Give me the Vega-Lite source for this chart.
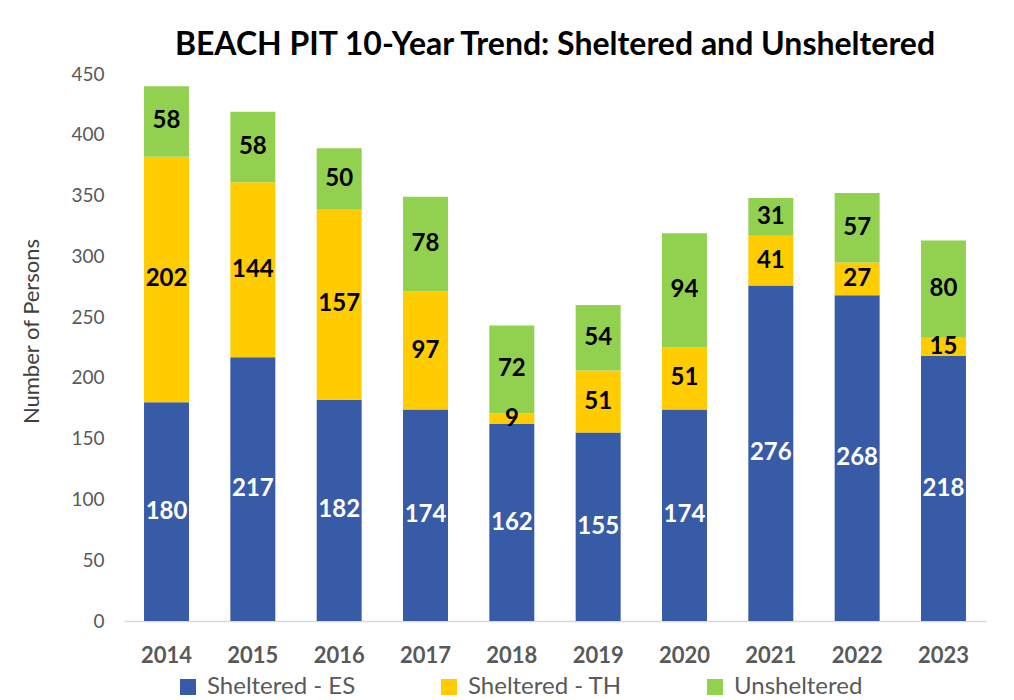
{
  "$schema": "https://vega.github.io/schema/vega-lite/v6.json",
  "autosize": "none",
  "width": 862,
  "height": 547,
  "padding": {"left": 124, "top": 74, "right": 28, "bottom": 79},
  "background": "#ffffff",
  "config": {
    "font": "Lato",
    "view": {"stroke": null}
  },
  "title": {
    "text": "BEACH PIT 10-Year Trend: Sheltered and Unsheltered",
    "font": "Lato",
    "fontSize": 32,
    "fontWeight": "bold",
    "color": "#000000",
    "anchor": "middle",
    "offset": 3
  },
  "data": {
    "values": [
      {"year": "2014", "series": "Sheltered - ES", "value": 180},
      {"year": "2014", "series": "Sheltered - TH", "value": 202},
      {"year": "2014", "series": "Unsheltered", "value": 58},
      {"year": "2015", "series": "Sheltered - ES", "value": 217},
      {"year": "2015", "series": "Sheltered - TH", "value": 144},
      {"year": "2015", "series": "Unsheltered", "value": 58},
      {"year": "2016", "series": "Sheltered - ES", "value": 182},
      {"year": "2016", "series": "Sheltered - TH", "value": 157},
      {"year": "2016", "series": "Unsheltered", "value": 50},
      {"year": "2017", "series": "Sheltered - ES", "value": 174},
      {"year": "2017", "series": "Sheltered - TH", "value": 97},
      {"year": "2017", "series": "Unsheltered", "value": 78},
      {"year": "2018", "series": "Sheltered - ES", "value": 162},
      {"year": "2018", "series": "Sheltered - TH", "value": 9},
      {"year": "2018", "series": "Unsheltered", "value": 72},
      {"year": "2019", "series": "Sheltered - ES", "value": 155},
      {"year": "2019", "series": "Sheltered - TH", "value": 51},
      {"year": "2019", "series": "Unsheltered", "value": 54},
      {"year": "2020", "series": "Sheltered - ES", "value": 174},
      {"year": "2020", "series": "Sheltered - TH", "value": 51},
      {"year": "2020", "series": "Unsheltered", "value": 94},
      {"year": "2021", "series": "Sheltered - ES", "value": 276},
      {"year": "2021", "series": "Sheltered - TH", "value": 41},
      {"year": "2021", "series": "Unsheltered", "value": 31},
      {"year": "2022", "series": "Sheltered - ES", "value": 268},
      {"year": "2022", "series": "Sheltered - TH", "value": 27},
      {"year": "2022", "series": "Unsheltered", "value": 57},
      {"year": "2023", "series": "Sheltered - ES", "value": 218},
      {"year": "2023", "series": "Sheltered - TH", "value": 15},
      {"year": "2023", "series": "Unsheltered", "value": 80}
    ]
  },
  "transform": [
    {"calculate": "indexof(['Sheltered - ES','Sheltered - TH','Unsheltered'], datum.series)", "as": "ord"},
    {"stack": "value", "groupby": ["year"], "sort": [{"field": "ord", "order": "ascending"}], "as": ["v0", "v1"]},
    {"calculate": "(datum.v0 + datum.v1) / 2", "as": "mid"}
  ],
  "encoding": {
    "x": {
      "field": "year",
      "type": "ordinal",
      "scale": {"paddingInner": 0.479, "paddingOuter": 0.232},
      "axis": {
        "title": null,
        "labelAngle": 0,
        "labelFont": "Lato",
        "labelFontSize": 22,
        "labelFontWeight": "bold",
        "labelColor": "#595959",
        "labelPadding": 24,
        "ticks": false,
        "domainColor": "#D9D9D9",
        "domainWidth": 1.5
      }
    }
  },
  "layer": [
    {
      "mark": {"type": "bar"},
      "encoding": {
        "y": {
          "field": "v1",
          "type": "quantitative",
          "scale": {"domain": [0, 450], "nice": false},
          "axis": {
            "title": "Number of Persons",
            "titleFont": "Lato",
            "titleFontSize": 22,
            "titleFontWeight": "normal",
            "titleColor": "#404040",
            "titlePadding": 27,
            "titleY": 257,
            "values": [0, 50, 100, 150, 200, 250, 300, 350, 400, 450],
            "labelFont": "Lato",
            "labelFontSize": 19,
            "labelColor": "#595959",
            "labelPadding": 20,
            "ticks": false,
            "domain": false,
            "grid": false
          }
        },
        "y2": {"field": "v0"},
        "color": {
          "field": "series",
          "type": "nominal",
          "scale": {
            "domain": ["Sheltered - ES", "Sheltered - TH", "Unsheltered"],
            "range": ["#385BA8", "#FFCC00", "#92D050"]
          },
          "legend": {
            "title": null,
            "orient": "none",
            "direction": "horizontal",
            "columns": 3,
            "legendX": 52,
            "legendY": 601,
            "padding": 0,
            "symbolType": "square",
            "symbolSize": 256,
            "symbolStrokeWidth": 0,
            "symbolOpacity": 1,
            "labelFont": "Lato",
            "labelFontSize": 24,
            "labelColor": "#595959",
            "labelOffset": 7,
            "columnPadding": 81,
            "labelLimit": 300
          }
        }
      }
    },
    {
      "mark": {"type": "text", "font": "Lato", "fontSize": 24, "fontWeight": "bold", "baseline": "middle", "align": "center"},
      "encoding": {
        "y": {"field": "mid", "type": "quantitative"},
        "text": {"field": "value", "type": "quantitative"},
        "color": {
          "condition": {"test": "datum.series === 'Sheltered - ES'", "value": "#ffffff"},
          "value": "#000000"
        }
      }
    }
  ]
}
